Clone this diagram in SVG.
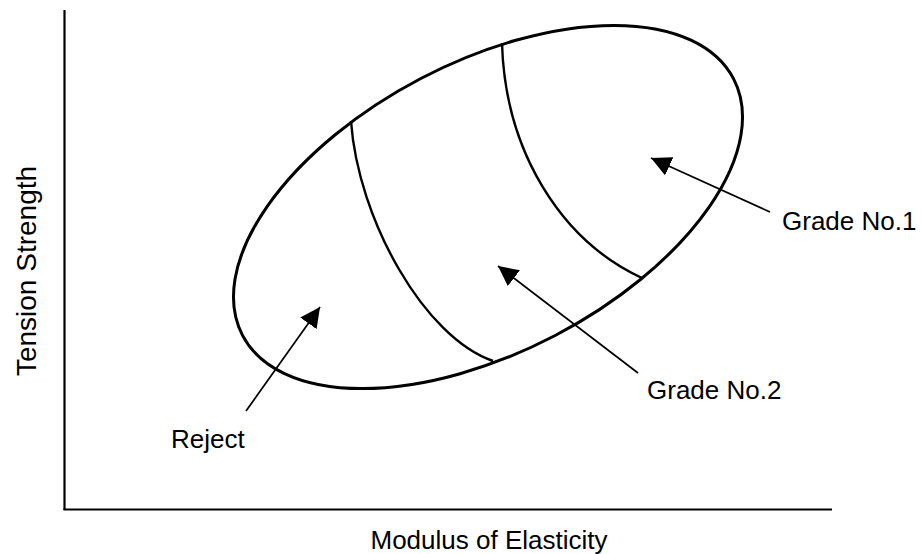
<svg xmlns="http://www.w3.org/2000/svg" width="921" height="554" viewBox="0 0 921 554">
  <style>
    .axis { stroke: #000; stroke-width: 2.2; fill: none; }
    .ell { stroke: #000; stroke-width: 3; fill: none; }
    .div { stroke: #000; stroke-width: 2.4; fill: none; }
    .conn { stroke: #000; stroke-width: 1.7; fill: none; marker-end: url(#ah); }
    .lbl { font-family: "Liberation Sans", Arial, Helvetica, sans-serif; font-size: 26px; fill: #000; }
  </style>
  <defs>
    <marker id="ah" markerUnits="userSpaceOnUse" viewBox="0 0 20 20" refX="20" refY="10" markerWidth="20" markerHeight="20" orient="auto">
      <path d="M0,0 L20,10 L0,20 z" fill="#000"/>
    </marker>
  </defs>
  <rect width="921" height="554" fill="#fff"/>

  <g id="axes">
    <line class="axis" x1="64.5" y1="10" x2="64.5" y2="510"/>
    <line class="axis" x1="63.5" y1="509.5" x2="832" y2="509.5"/>
    <text class="lbl" x="489" y="549" text-anchor="middle">Modulus of Elasticity</text>
    <text class="lbl" style="font-size:28px" transform="translate(36 271) rotate(-90)" text-anchor="middle">Tension Strength</text>
  </g>

  <g id="distribution">
    <ellipse class="ell" cx="488" cy="207" rx="277" ry="145" transform="rotate(-27.6 488 207)"/>
  </g>

  <g id="boundaries">
    <path class="div" d="M351,121 C358,220 425,338 493,361"/>
    <path class="div" d="M502,43 C505,150 560,240 642,278"/>
  </g>

  <g id="grade1">
    <text class="lbl" x="782" y="230">Grade No.1</text>
  </g>
  <g id="grade2">
    <text class="lbl" x="647" y="399">Grade No.2</text>
  </g>
  <g id="reject">
    <text class="lbl" x="171" y="448">Reject</text>
  </g>

  <g id="connectors">
    <line class="conn" x1="770" y1="212" x2="651" y2="158"/>
    <line class="conn" x1="638" y1="373" x2="498" y2="266"/>
    <line class="conn" x1="246" y1="411" x2="320" y2="307"/>
  </g>
</svg>
